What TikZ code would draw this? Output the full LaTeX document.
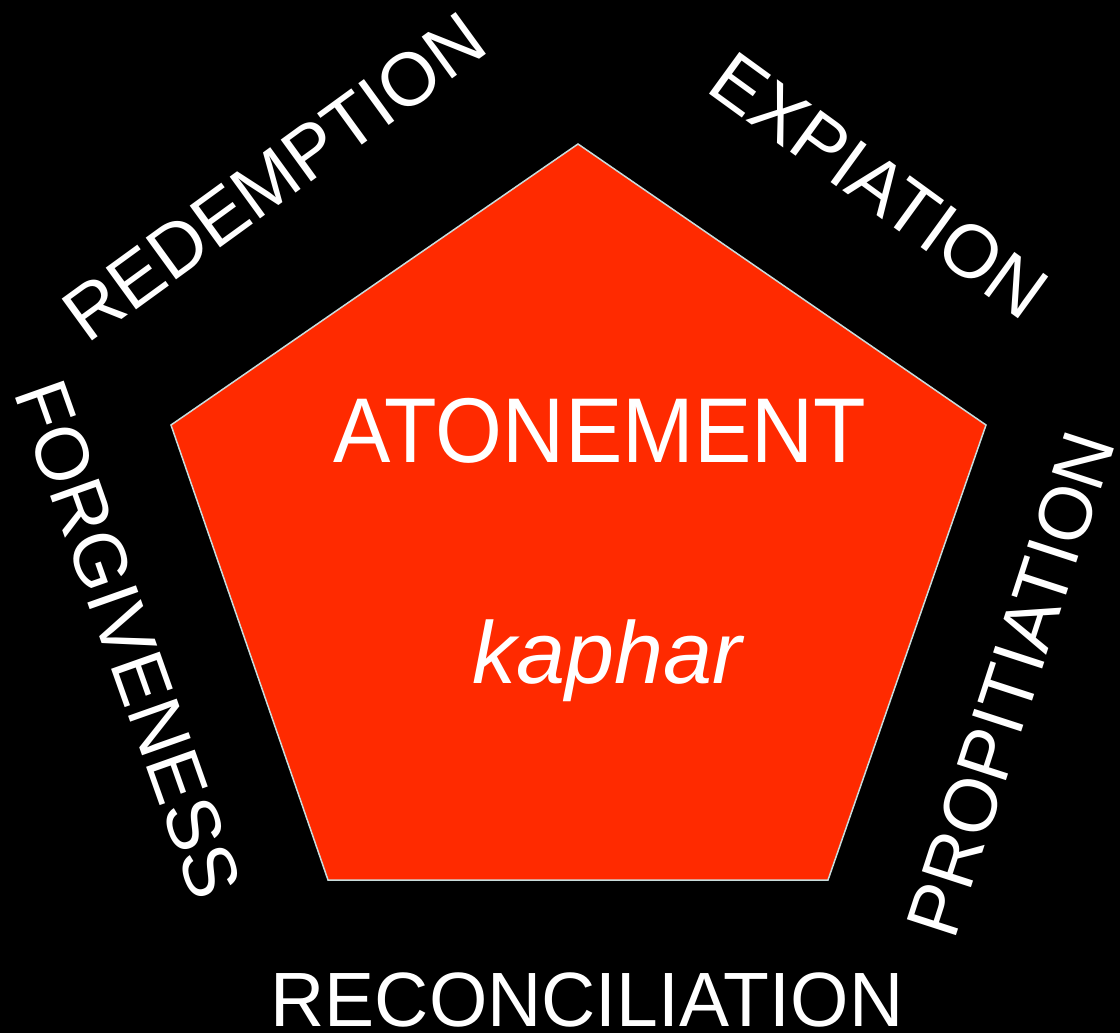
\documentclass[tikz,border=0pt]{standalone}
\usepackage{fontspec}
\setmainfont{Liberation Sans}
\definecolor{penta}{HTML}{FF2A00}
\definecolor{edge}{HTML}{C8DCDC}
\begin{document}
\begin{tikzpicture}[x=1pt,y=-1pt,
  lbl/.style={text=white,inner sep=0pt,anchor=base,font=\fontsize{75}{75}\selectfont},
  big/.style={text=white,inner sep=0pt,anchor=base,font=\fontsize{92}{92}\selectfont}]
\fill[black] (0,0) rectangle (1120,1033);
\useasboundingbox (0,0) rectangle (1120,1033);
\coordinate (pt) at (578,144);
\coordinate (pr) at (986,425);
\coordinate (pbr) at (828,880);
\coordinate (pbl) at (328,880);
\coordinate (pl) at (171,425);
\filldraw[fill=penta,draw=edge,line width=1.5pt,line join=miter] (pt) -- (pr) -- (pbr) -- (pbl) -- (pl) -- cycle;
\node[big] (aton) at (600,462) {\scalebox{0.935}[1]{ATONEMENT}};
\node[big,font=\fontsize{88}{88}\selectfont\itshape] (kap) at (607,683) {kaphar};
\node[lbl,rotate=36] (red) at (289.5,198) {REDEMPTION};
\node[lbl,rotate=-36] (exp) at (864,206) {EXPIATION};
\node[lbl,rotate=-70.5] (for) at (104,648) {FORGIVENESS};
\node[lbl,rotate=72] (pro) at (1035,692) {PROPITIATION};
\node[lbl,font=\fontsize{77}{77}\selectfont] (rec) at (587,1026) {\scalebox{0.975}[1]{RECONCILIATION}};
\end{tikzpicture}
\end{document}
